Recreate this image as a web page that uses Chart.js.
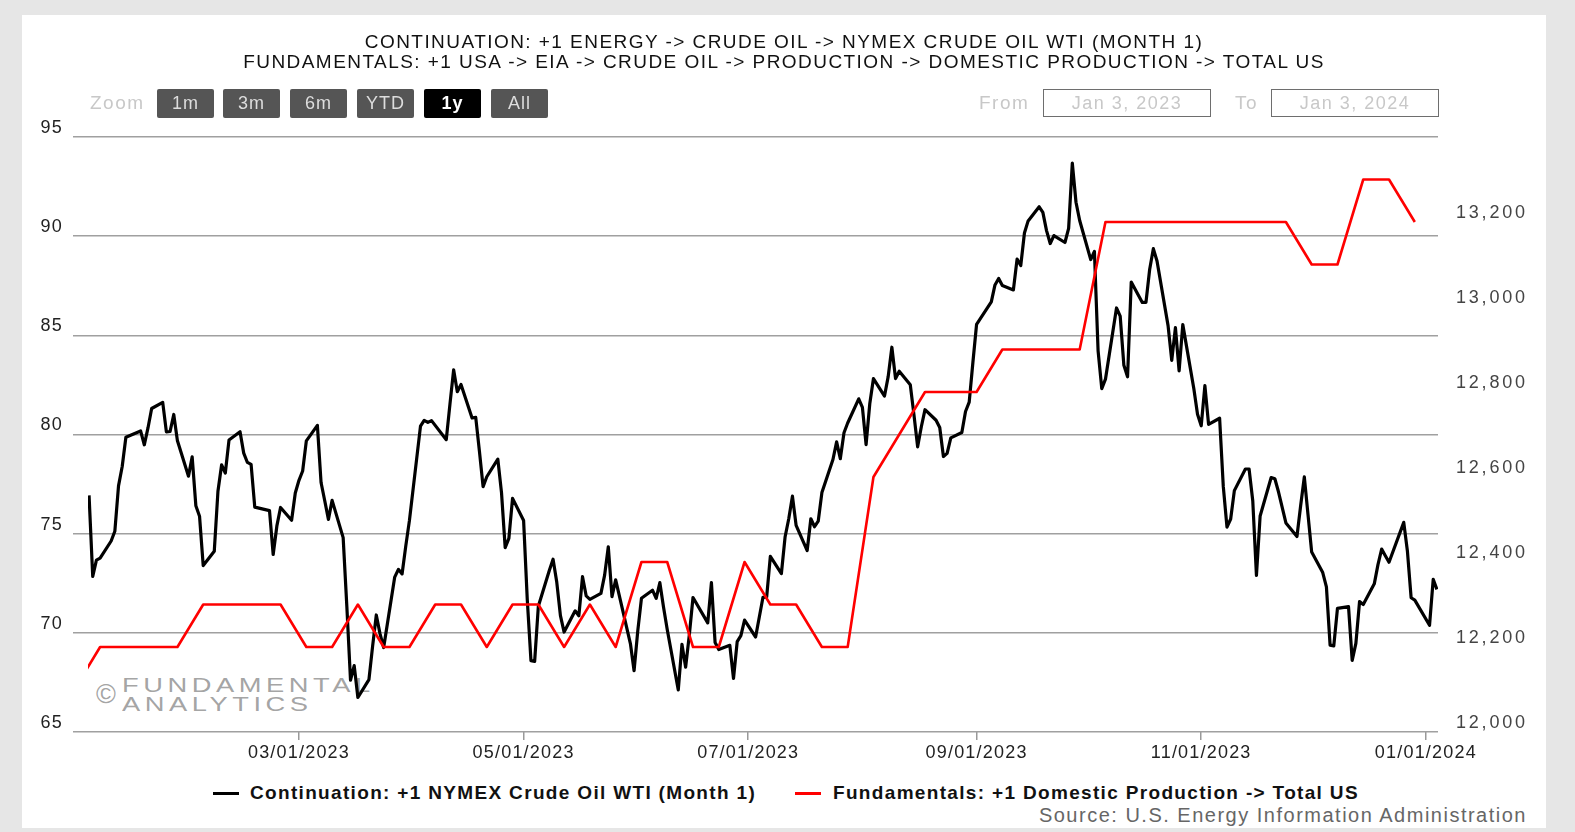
<!DOCTYPE html>
<html>
<head>
<meta charset="utf-8">
<script src="https://cdn.jsdelivr.net/npm/chart.js@4.4.1/dist/chart.umd.min.js"></script>
<style>
html, body { margin: 0; padding: 0; }
body { width: 1575px; height: 832px; background: #e6e6e6; position: relative; overflow: hidden;
       font-family: 'Liberation Sans', Arial, sans-serif; }
.abs { position: absolute; white-space: nowrap; }
#panel { left: 22px; top: 15px; width: 1524px; height: 813px; background: #fff; }
#wrap { position: absolute; left: 22px; top: 15px; width: 1524px; height: 757px; }
.title { left: 22px; width: 1524px; text-align: center; font-size: 19px; line-height: 20px; letter-spacing: 1.45px; color: #111; }
.btn { top: 89px; width: 57px; height: 29px; line-height: 29px; background: #555; color: #ddd; text-align: center;
       font-size: 18px; letter-spacing: 1px; border-radius: 2px; }
.btn.on { background: #000; color: #fff; font-weight: bold; }
.lbl { top: 93px; font-size: 19px; line-height: 20px; letter-spacing: 1.5px; color: #c8c8c8; }
.box { top: 89px; width: 166px; height: 26px; line-height: 26px; border: 1.5px solid #6e6e6e; text-align: center;
       font-size: 18px; letter-spacing: 1.5px; color: #c8c8c8; }
.wm { color: rgba(140,140,140,0.8); font-size: 21px; line-height: 21px; letter-spacing: 3.5px;
      transform: scaleX(1.3); transform-origin: left top; }
.leg { top: 783px; font-size: 19px; line-height: 20px; font-weight: bold; letter-spacing: 1.33px; color: #111; }
.seg { top: 792px; width: 26px; height: 3px; }
</style>
</head>
<body>
<div id="panel" class="abs"></div>

<div class="abs wm" style="left:96px;top:681px;font-size:27px;line-height:27px;letter-spacing:0;transform:none">&copy;</div>
<div class="abs wm" style="left:122px;top:674px">FUNDAMENTAL</div>
<div class="abs wm" style="left:122px;top:693px">ANALYTICS</div>

<div id="wrap"><canvas id="chart"></canvas></div>

<div class="abs title" style="top:32px">CONTINUATION: +1 ENERGY -&gt; CRUDE OIL -&gt; NYMEX CRUDE OIL WTI (MONTH 1)</div>
<div class="abs title" style="top:52px">FUNDAMENTALS: +1 USA -&gt; EIA -&gt; CRUDE OIL -&gt; PRODUCTION -&gt; DOMESTIC PRODUCTION -&gt; TOTAL US</div>

<div class="abs lbl" style="left:90px">Zoom</div>
<div class="abs btn" style="left:157px">1m</div>
<div class="abs btn" style="left:223px">3m</div>
<div class="abs btn" style="left:290px">6m</div>
<div class="abs btn" style="left:357px">YTD</div>
<div class="abs btn on" style="left:424px">1y</div>
<div class="abs btn" style="left:491px">All</div>

<div class="abs lbl" style="left:979px">From</div>
<div class="abs box" style="left:1043px">Jan 3, 2023</div>
<div class="abs lbl" style="left:1235px">To</div>
<div class="abs box" style="left:1271px">Jan 3, 2024</div>

<div class="abs seg" style="left:213px;background:#000"></div>
<div class="abs leg" style="left:250px">Continuation: +1 NYMEX Crude Oil WTI (Month 1)</div>
<div class="abs seg" style="left:795px;background:#ff0000"></div>
<div class="abs leg" style="left:833px">Fundamentals: +1 Domestic Production -&gt; Total US</div>

<div class="abs" style="right:48px;top:805px;font-size:20px;line-height:20px;letter-spacing:1.5px;color:#666">Source: U.S. Energy Information Administration</div>

<script>
// NYMEX WTI front month, daily settles
const oilDates = [
  '2023-01-03','2023-01-04','2023-01-05','2023-01-06','2023-01-09','2023-01-10','2023-01-11','2023-01-12','2023-01-13',
  '2023-01-17','2023-01-18','2023-01-19','2023-01-20','2023-01-23','2023-01-24','2023-01-25','2023-01-26','2023-01-27',
  '2023-01-30','2023-01-31','2023-02-01','2023-02-02','2023-02-03','2023-02-06','2023-02-07','2023-02-08','2023-02-09',
  '2023-02-10','2023-02-13','2023-02-14','2023-02-15','2023-02-16','2023-02-17','2023-02-21','2023-02-22','2023-02-23',
  '2023-02-24','2023-02-27','2023-02-28','2023-03-01','2023-03-02','2023-03-03','2023-03-06','2023-03-07','2023-03-08',
  '2023-03-09','2023-03-10','2023-03-13','2023-03-14','2023-03-15','2023-03-16','2023-03-17','2023-03-20','2023-03-21',
  '2023-03-22','2023-03-23','2023-03-24','2023-03-27','2023-03-28','2023-03-29','2023-03-30','2023-03-31','2023-04-03',
  '2023-04-04','2023-04-05','2023-04-06','2023-04-10','2023-04-11','2023-04-12','2023-04-13','2023-04-14','2023-04-17',
  '2023-04-18','2023-04-19','2023-04-20','2023-04-21','2023-04-24','2023-04-25','2023-04-26','2023-04-27','2023-04-28',
  '2023-05-01','2023-05-02','2023-05-03','2023-05-04','2023-05-05','2023-05-08','2023-05-09','2023-05-10','2023-05-11',
  '2023-05-12','2023-05-15','2023-05-16','2023-05-17','2023-05-18','2023-05-19','2023-05-22','2023-05-23','2023-05-24',
  '2023-05-25','2023-05-26','2023-05-30','2023-05-31','2023-06-01','2023-06-02','2023-06-05','2023-06-06','2023-06-07',
  '2023-06-08','2023-06-09','2023-06-12','2023-06-13','2023-06-14','2023-06-15','2023-06-16','2023-06-20','2023-06-21',
  '2023-06-22','2023-06-23','2023-06-26','2023-06-27','2023-06-28','2023-06-29','2023-06-30','2023-07-03','2023-07-05',
  '2023-07-06','2023-07-07','2023-07-10','2023-07-11','2023-07-12','2023-07-13','2023-07-14','2023-07-17','2023-07-18',
  '2023-07-19','2023-07-20','2023-07-21','2023-07-24','2023-07-25','2023-07-26','2023-07-27','2023-07-28','2023-07-31',
  '2023-08-01','2023-08-02','2023-08-03','2023-08-04','2023-08-07','2023-08-08','2023-08-09','2023-08-10','2023-08-11',
  '2023-08-14','2023-08-15','2023-08-16','2023-08-17','2023-08-18','2023-08-21','2023-08-22','2023-08-23','2023-08-24',
  '2023-08-25','2023-08-28','2023-08-29','2023-08-30','2023-08-31','2023-09-01','2023-09-05','2023-09-06','2023-09-07',
  '2023-09-08','2023-09-11','2023-09-12','2023-09-13','2023-09-14','2023-09-15','2023-09-18','2023-09-19','2023-09-20',
  '2023-09-21','2023-09-22','2023-09-25','2023-09-26','2023-09-27','2023-09-28','2023-09-29','2023-10-02','2023-10-03',
  '2023-10-04','2023-10-05','2023-10-06','2023-10-09','2023-10-10','2023-10-11','2023-10-12','2023-10-13','2023-10-16',
  '2023-10-17','2023-10-18','2023-10-19','2023-10-20','2023-10-23','2023-10-24','2023-10-25','2023-10-26','2023-10-27',
  '2023-10-30','2023-10-31','2023-11-01','2023-11-02','2023-11-03','2023-11-06','2023-11-07','2023-11-08','2023-11-09',
  '2023-11-10','2023-11-13','2023-11-14','2023-11-15','2023-11-16','2023-11-17','2023-11-20','2023-11-21','2023-11-22',
  '2023-11-24','2023-11-27','2023-11-28','2023-11-29','2023-11-30','2023-12-01','2023-12-04','2023-12-05','2023-12-06',
  '2023-12-07','2023-12-08','2023-12-11','2023-12-12','2023-12-13','2023-12-14','2023-12-15','2023-12-18','2023-12-19',
  '2023-12-20','2023-12-21','2023-12-22','2023-12-26','2023-12-27','2023-12-28','2023-12-29','2024-01-02','2024-01-03',
  '2024-01-04'
];
const oilPrices = [
  76.93, 72.84, 73.67, 73.77, 74.63, 75.12, 77.41, 78.39, 79.86,
  80.18, 79.48, 80.33, 81.31, 81.62, 80.13, 80.15, 81.01, 79.68,
  77.90, 78.87, 76.41, 75.88, 73.39, 74.11, 77.14, 78.47, 78.06,
  79.72, 80.14, 79.06, 78.59, 78.49, 76.34, 76.16, 73.95, 75.39,
  76.32, 75.68, 77.05, 77.69, 78.16, 79.68, 80.46, 77.58, 76.66,
  75.72, 76.68, 74.80, 71.33, 67.61, 68.35, 66.74, 67.64, 69.33,
  70.90, 69.96, 69.26, 72.81, 73.20, 72.97, 74.37, 75.67, 80.42,
  80.71, 80.61, 80.70, 79.74, 81.53, 83.26, 82.16, 82.52, 80.83,
  80.86, 79.16, 77.37, 77.87, 78.76, 77.07, 74.30, 74.76, 76.78,
  75.66, 71.66, 68.60, 68.56, 71.34, 73.16, 73.71, 72.56, 70.87,
  70.04, 71.11, 70.86, 72.83, 71.86, 71.69, 71.99, 72.91, 74.34,
  71.83, 72.67, 69.46, 68.09, 70.10, 71.74, 72.15, 71.74, 72.53,
  71.29, 70.17, 67.12, 69.42, 68.27, 69.90, 71.78, 70.50, 72.53,
  69.51, 69.16, 69.37, 67.70, 69.56, 69.86, 70.64, 69.79, 71.79,
  71.80, 73.86, 72.99, 74.83, 75.75, 76.89, 75.42, 74.15, 75.75,
  75.35, 75.63, 77.07, 78.74, 79.63, 78.78, 80.09, 80.58, 81.80,
  81.37, 79.49, 81.55, 82.82, 81.94, 82.92, 84.40, 82.82, 83.19,
  82.51, 80.99, 79.38, 80.39, 81.25, 80.72, 80.35, 78.89, 79.05,
  79.83, 80.10, 81.16, 81.63, 83.63, 85.55, 86.69, 87.54, 87.87,
  87.51, 87.29, 88.84, 88.52, 90.16, 90.77, 91.48, 91.20, 90.28,
  89.63, 90.03, 89.68, 90.39, 93.68, 91.71, 90.79, 88.82, 89.23,
  84.22, 82.31, 82.79, 86.38, 85.97, 83.49, 82.91, 87.69, 86.66,
  86.66, 88.32, 89.37, 88.75, 85.49, 83.74, 85.39, 83.21, 85.54,
  82.31, 81.02, 80.44, 82.46, 80.51, 80.82, 77.37, 75.33, 75.74,
  77.17, 78.26, 78.26, 76.66, 72.90, 75.89, 77.83, 77.77, 77.10,
  75.54, 74.86, 76.41, 77.86, 75.96, 74.07, 73.04, 72.32, 69.38,
  69.34, 71.23, 71.32, 68.61, 69.47, 71.58, 71.43, 72.47, 73.44,
  74.22, 73.89, 73.56, 75.57, 74.11, 71.77, 71.65, 70.38, 72.70,
  72.19
];

// EIA weekly domestic crude production, total US (thousand b/d)
const prodDates = [
  '2022-12-30','2023-01-06','2023-01-13','2023-01-20','2023-01-27','2023-02-03','2023-02-10','2023-02-17','2023-02-24',
  '2023-03-03','2023-03-10','2023-03-17','2023-03-24','2023-03-31','2023-04-07','2023-04-14','2023-04-21','2023-04-28',
  '2023-05-05','2023-05-12','2023-05-19','2023-05-26','2023-06-02','2023-06-09','2023-06-16','2023-06-23','2023-06-30',
  '2023-07-07','2023-07-14','2023-07-21','2023-07-28','2023-08-04','2023-08-11','2023-08-18','2023-08-25','2023-09-01',
  '2023-09-08','2023-09-15','2023-09-22','2023-09-29','2023-10-06','2023-10-13','2023-10-20','2023-10-27','2023-11-03',
  '2023-11-10','2023-11-17','2023-11-24','2023-12-01','2023-12-08','2023-12-15','2023-12-22','2023-12-29'
];
const prodValues = [
  12100, 12200, 12200, 12200, 12200, 12300, 12300, 12300, 12300,
  12200, 12200, 12300, 12200, 12200, 12300, 12300, 12200, 12300,
  12300, 12200, 12300, 12200, 12400, 12400, 12200, 12200, 12400,
  12300, 12300, 12200, 12200, 12600, 12700, 12800, 12800, 12800,
  12900, 12900, 12900, 12900, 13200, 13200, 13200, 13200, 13200,
  13200, 13200, 13200, 13100, 13100, 13300, 13300, 13200
];

const xTickLabels = ['03/01/2023', '05/01/2023', '07/01/2023', '09/01/2023', '11/01/2023', '01/01/2024'];
const priceTicks = [65, 70, 75, 80, 85, 90, 95];
const prodTicks = [12000, 12200, 12400, 12600, 12800, 13000, 13200];
const rangeFrom = '2023-01-03';

const DAY = 86400000, BASE = Date.UTC(2023, 0, 1);
function isoDay(s) {
  const [y, m, d] = s.split('-').map(Number);
  return (Date.UTC(y, m - 1, d) - BASE) / DAY;
}
function usDay(s) {
  const [m, d, y] = s.split('/').map(Number);
  return (Date.UTC(y, m - 1, d) - BASE) / DAY;
}

// text in the source is set wide, match it on the canvas
const wideText = {
  id: 'wideText',
  beforeLayout(chart) { chart.ctx.letterSpacing = '1.2px'; },
  beforeDraw(chart) { chart.ctx.letterSpacing = '1.2px'; },
  afterUpdate(chart) {
    // right axis labels are spaced even wider
    const s = chart.scales.y1;
    if (s && !s._wide) {
      const orig = s.drawLabels;
      s.drawLabels = function (area) {
        this.ctx.save();
        this.ctx.letterSpacing = '2.8px';
        orig.call(this, area);
        this.ctx.restore();
      };
      s._wide = true;
    }
  }
};

// series are cut at the selected range start (Jan 3, 2023)
const rangeClip = {
  id: 'rangeClip',
  beforeDatasetsDraw(chart) {
    const { ctx, chartArea, scales } = chart;
    const left = scales.x.getPixelForValue(isoDay(rangeFrom)) - 1;
    ctx.save();
    ctx.beginPath();
    ctx.rect(left, chartArea.top - 10, chartArea.right - left + 10, chartArea.bottom - chartArea.top + 20);
    ctx.clip();
  },
  afterDatasetsDraw(chart) { chart.ctx.restore(); }
};

Chart.defaults.font.family = "'Liberation Sans', Arial, sans-serif";
Chart.defaults.font.size = 18;
Chart.defaults.color = '#333';

const ctx = document.getElementById('chart').getContext('2d');
new Chart(ctx, {
  type: 'line',
  data: {
    datasets: [{
      label: 'Fundamentals: +1 Domestic Production -> Total US',
      data: prodDates.map((d, i) => ({ x: isoDay(d), y: prodValues[i] })),
      yAxisID: 'y1',
      borderColor: '#ff0000',
      borderWidth: 2.6,
      pointRadius: 0,
      tension: 0,
      borderJoinStyle: 'round'
    }, {
      label: 'Continuation: +1 NYMEX Crude Oil WTI (Month 1)',
      data: oilDates.map((d, i) => ({ x: isoDay(d), y: oilPrices[i] })),
      yAxisID: 'y',
      borderColor: '#000',
      borderWidth: 3.2,
      pointRadius: 0,
      tension: 0,
      borderJoinStyle: 'round'
    }]
  },
  options: {
    responsive: true,
    maintainAspectRatio: false,
    animation: false,
    layout: { padding: { top: 122, left: 0, right: 0, bottom: 0 } },
    plugins: { legend: { display: false }, tooltip: { enabled: false } },
    scales: {
      x: {
        type: 'linear',
        min: -2.36,
        max: 368.3,
        afterBuildTicks: (scale) => { scale.ticks = xTickLabels.map(l => ({ value: usDay(l) })); },
        afterFit: (scale) => { scale.height = 40; },
        ticks: { callback: (v, i) => xTickLabels[i], maxRotation: 0, autoSkip: false, padding: 2, color: '#222' },
        grid: { drawOnChartArea: false, drawTicks: true, tickLength: 8, color: '#999', lineWidth: 1.5 },
        border: { display: false }
      },
      y: {
        position: 'left',
        min: 65,
        max: 95,
        afterBuildTicks: (scale) => { scale.ticks = priceTicks.map(v => ({ value: v })); },
        afterFit: (scale) => { scale.width = 51; },
        ticks: { padding: 10, labelOffset: -9, color: '#222' },
        grid: { color: '#a0a0a0', lineWidth: 1.5, drawTicks: false },
        border: { display: false }
      },
      y1: {
        position: 'right',
        min: 12000,
        max: 13400,
        afterBuildTicks: (scale) => { scale.ticks = prodTicks.map(v => ({ value: v })); },
        afterFit: (scale) => { scale.width = 108; },
        ticks: { padding: 18, labelOffset: -9, color: '#444', callback: (v) => v.toLocaleString('en-US') },
        grid: { drawOnChartArea: false, drawTicks: false },
        border: { display: false }
      }
    }
  },
  plugins: [wideText, rangeClip]
});
</script>
</body>
</html>
